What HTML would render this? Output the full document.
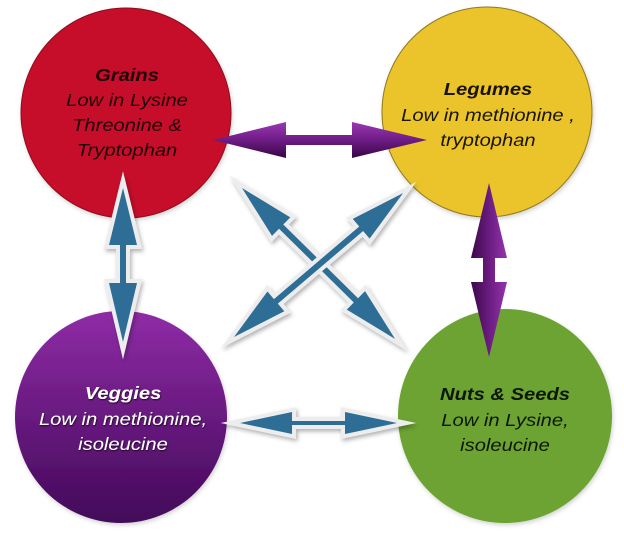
<!DOCTYPE html>
<html><head><meta charset="utf-8">
<style>
html,body{margin:0;padding:0;background:#fff;}
svg{display:block;}
text{font-family:"Liberation Sans",sans-serif;font-style:italic;font-size:18px;text-anchor:middle;}
.b{font-weight:bold;}
</style></head>
<body>
<svg width="624" height="537" viewBox="0 0 624 537" xmlns="http://www.w3.org/2000/svg">
<defs>
  <linearGradient id="pc" x1="0" y1="0" x2="0" y2="1">
    <stop offset="0" stop-color="#8f2ca6"/>
    <stop offset="1" stop-color="#420859"/>
  </linearGradient>
  <linearGradient id="ph" x1="0" y1="122" x2="0" y2="158" gradientUnits="userSpaceOnUse">
    <stop offset="0" stop-color="#9a38b2"/>
    <stop offset="0.5" stop-color="#6e1c86"/>
    <stop offset="1" stop-color="#360643"/>
  </linearGradient>
  <linearGradient id="pv" x1="471" y1="0" x2="507" y2="0" gradientUnits="userSpaceOnUse">
    <stop offset="0" stop-color="#3c0749"/>
    <stop offset="0.5" stop-color="#6a1c80"/>
    <stop offset="1" stop-color="#9434ac"/>
  </linearGradient>
  <filter id="sh" x="-20%" y="-20%" width="140%" height="140%">
    <feDropShadow dx="1.5" dy="2.5" stdDeviation="2" flood-color="#000" flood-opacity="0.3"/>
  </filter>
  <filter id="csh" x="-10%" y="-10%" width="120%" height="120%">
    <feDropShadow dx="1" dy="2" stdDeviation="2" flood-color="#000" flood-opacity="0.18"/>
  </filter>
  <filter id="tsh" x="-10%" y="-30%" width="120%" height="160%">
    <feDropShadow dx="0.5" dy="1" stdDeviation="0.8" flood-color="#000" flood-opacity="0.8"/>
  </filter>
</defs>

<!-- circles -->
<circle cx="126" cy="113" r="105" fill="#c6112c" stroke="#8c0a1c" stroke-width="1" filter="url(#csh)"/>
<circle cx="487" cy="112" r="105" fill="#eac42b" stroke="#8f7a1e" stroke-width="1" filter="url(#csh)"/>
<circle cx="121" cy="417" r="106" fill="url(#pc)" filter="url(#csh)"/>
<circle cx="505" cy="416" r="107" fill="#6ca333" filter="url(#csh)"/>

<!-- purple horizontal arrow -->
<polygon points="213,140 286,122 286,135 352,135 352,122 427,140 352,158 352,145 286,145 286,158" fill="url(#ph)"/>
<!-- purple vertical arrow -->
<polygon points="489,183 507,258 495,258 495,282 507,282 489,357 471,282 483,282 483,258 471,258" fill="url(#pv)"/>

<!-- blue arrows with light outline -->
<g fill="#2d6e96" stroke="#ededed" stroke-width="8" stroke-linejoin="miter" stroke-miterlimit="12" paint-order="stroke" filter="url(#sh)">
  <!-- left vertical -->
  <polygon points="123,188 137,245 126,245 126,283 137,283 123,342 109,283 120,283 120,245 109,245"/>
  <!-- bottom horizontal -->
  <polygon points="240,423 292,412 292,421 345,421 345,412 397,423 345,434 345,425 292,425 292,434"/>
  <!-- diagonal A (top-left to bottom-right) -->
  <polygon transform="translate(242,188) rotate(44.6)" points="0,0 55,-13 55,-3 160,-3 160,-13 215,0 160,13 160,3 55,3 55,13"/>
  <!-- diagonal B (bottom-left to top-right) -->
  <polygon transform="translate(234,337) rotate(-40.4)" points="0,0 55,-13 55,-3 167,-3 167,-13 222,0 167,13 167,3 55,3 55,13"/>
</g>

<!-- texts -->
<g fill="#1c0408" transform="translate(127,0) scale(1.12,1)">
  <text class="b" x="0" y="81">Grains</text>
  <text x="0" y="106">Low in Lysine</text>
  <text x="0" y="131">Threonine &amp;</text>
  <text x="0" y="156">Tryptophan</text>
</g>
<g fill="#1a1404" transform="translate(488,0) scale(1.12,1)">
  <text class="b" x="0" y="95">Legumes</text>
  <text x="0" y="121">Low in methionine ,</text>
  <text x="0" y="146">tryptophan</text>
</g>
<g fill="#ffffff" filter="url(#tsh)" transform="translate(123,0) scale(1.12,1)">
  <text class="b" x="0" y="399">Veggies</text>
  <text x="0" y="425">Low in methionine,</text>
  <text x="0" y="450">isoleucine</text>
</g>
<g fill="#0c1704" transform="translate(505,0) scale(1.12,1)">
  <text class="b" x="0" y="400">Nuts &amp; Seeds</text>
  <text x="0" y="426">Low in Lysine,</text>
  <text x="0" y="451">isoleucine</text>
</g>
</svg>
</body></html>
